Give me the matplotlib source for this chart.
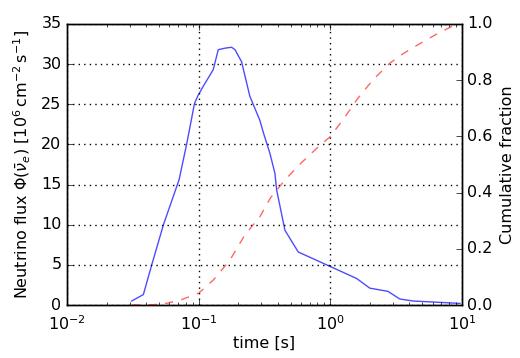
import numpy as np
import matplotlib
matplotlib.use("Agg")
import matplotlib.pyplot as plt

plt.style.use("classic")
plt.rcParams["font.family"] = ["DejaVu Sans"]
plt.rcParams["mathtext.fontset"] = "dejavusans"

# neutrino flux vs time
t_flux = [0.031, 0.038, 0.044, 0.054, 0.071, 0.081, 0.093, 0.099, 0.108, 0.129,
          0.141, 0.160, 0.178, 0.189, 0.212, 0.245, 0.292, 0.31, 0.348, 0.38, 0.392,
          0.453, 0.572, 1.0, 1.59, 2.0, 2.75, 3.38, 4.25, 9.7]
flux = [0.5, 1.3, 5.0, 10.0, 15.6, 20.0, 25.1, 26.1, 27.2, 29.3,
        31.8, 32.0, 32.1, 31.8, 30.3, 26.0, 23.0, 21.5, 18.9, 16.4, 14.3,
        9.3, 6.6, 4.8, 3.3, 2.1, 1.7, 0.75, 0.5, 0.2]

# cumulative fraction
t_cum = [0.031, 0.045, 0.057, 0.075, 0.10, 0.13, 0.173, 0.225, 0.292, 0.35,
         0.453, 0.6, 0.8, 1.0, 1.3, 1.59, 2.1, 2.83, 3.6, 4.8, 6.5, 8.8, 10.0]
cum = [0.0, 0.001, 0.006, 0.02, 0.042, 0.09, 0.16, 0.25, 0.314, 0.38,
       0.445, 0.505, 0.56, 0.599, 0.67, 0.73, 0.80, 0.86, 0.895, 0.93, 0.965, 0.996, 1.0]

fig = plt.figure(figsize=(5.2, 3.58), dpi=100, facecolor="white")
ax = fig.add_axes([0.129, 0.148, 0.759, 0.785])
ax.plot(t_flux, flux, color="blue", lw=1.0, alpha=0.7)
ax.set_xscale("log")
ax.set_xlim(1e-2, 1e1)
ax.set_ylim(0, 35)
ax.set_yticks(np.arange(0, 36, 5))
ax.grid(True, which="major", color="k", linestyle=":", lw=1.0)
ax.set_xlabel("time [s]", fontsize=11.5, labelpad=2)
ax.set_ylabel(r"Neutrino flux $\Phi(\bar{\nu}_e)$ [$10^6\,\mathrm{cm}^{-2}\,\mathrm{s}^{-1}$]",
              fontsize=11.5, labelpad=6)
ax.tick_params(labelsize=11.5)
ax.tick_params(axis="x", pad=7)

ax2 = ax.twinx()
ax2.plot(t_cum, cum, color="red", lw=1.0, ls="--", alpha=0.6)
ax2.set_xscale("log")
ax2.set_xlim(1e-2, 1e1)
ax2.set_ylim(0, 1.0)
ax2.set_yticks(np.arange(0, 1.01, 0.2))
ax2.set_ylabel("Cumulative fraction", fontsize=11.5)
ax2.tick_params(labelsize=11.5)

fig.savefig("out.png", dpi=100, facecolor="white")
